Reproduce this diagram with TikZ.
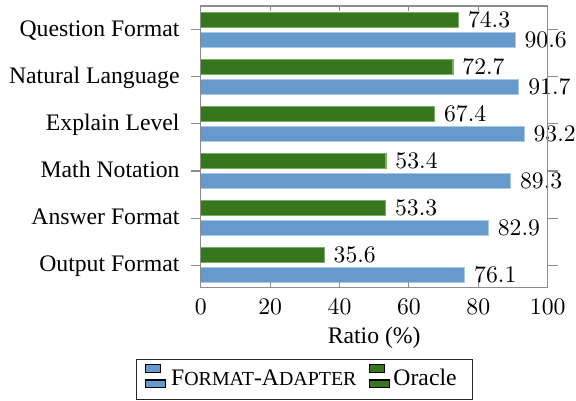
\documentclass[tikz,border=0pt]{standalone}
\usepackage{fontspec}
\setmainfont{Liberation Serif}
\definecolor{fablue}{RGB}{102,153,204}
\definecolor{fablueedge}{RGB}{170,200,232}
\definecolor{orgreen}{RGB}{56,118,29}
\definecolor{orgreenedge}{RGB}{120,175,100}
\definecolor{axisgray}{RGB}{140,140,140}
\newcommand{\fsc}[1]{{\fontsize{8.4}{9}\selectfont #1}}
\begin{document}
\begin{tikzpicture}[x=0.4219pt,y=-0.4219pt,
  bluebar/.style={fill=fablue,draw=fablueedge,line width=0.45pt},
  greenbar/.style={fill=orgreen,draw=orgreenedge,line width=0.45pt},
  vallabel/.style={anchor=west,inner sep=0pt},
  catlabel/.style={anchor=base east,inner sep=0pt},
  axisline/.style={draw=axisgray,line width=0.5pt},
  ticklabel/.style={inner sep=0pt},
  legicon/.style={draw=black,line width=0.5pt}]
\useasboundingbox (0,0) rectangle (576,401);
% bars and labels
\foreach \i/\name/\o/\f in {0/Question Format/74.3/90.6,1/Natural Language/72.7/91.7,2/Explain Level/67.4/93.2,3/Math Notation/53.4/89.3,4/Answer Format/53.3/82.9,5/Output Format/35.6/76.1}{
  \pgfmathsetmacro{\yc}{29.7+47.1*\i}
  \pgfmathsetmacro{\xo}{200.7+3.47*\o}
  \pgfmathsetmacro{\xf}{200.7+3.47*\f}
  \draw[greenbar] (200.7,\yc-17.5) rectangle (\xo,\yc-2.5);
  \draw[bluebar] (200.7,\yc+2.5) rectangle (\xf,\yc+17.5);
  \node[vallabel] (o\i) at (\xo+9,\yc-10) {$\o$};
  \node[vallabel] (f\i) at (\xf+9,\yc+10) {$\f$};
  \node[catlabel] (cat\i) at (180,\yc+6.5) {\name};
  \draw[axisline] (190.5,\yc) -- (200.7,\yc);
  \draw[axisline] (547.7,\yc) -- (557.5,\yc);
}
% axis box
\draw[axisline] (200.7,6) rectangle (547.7,287.7);
\foreach \v in {0,20,40,60,80,100}{
  \pgfmathsetmacro{\xv}{200.7+3.47*\v}
  \draw[axisline] (\xv,6) -- (\xv,11.5);
  \draw[axisline] (\xv,287.7) -- (\xv,282.2);
  \node[ticklabel] (xt\v) at (\xv,306.7) {$\v$};
}
\node[anchor=base,inner sep=0pt] (xlabel) at (374.2,343.3) {Ratio (\%)};
% legend
\draw[black!85,line width=0.5pt] (136.7,359.3) rectangle (472.3,399.3);
\draw[legicon,fill=fablue] (145.2,364.7) rectangle (160.2,372.3);
\draw[legicon,fill=fablue] (145.2,380) rectangle (165.2,387.3);
\node[anchor=base west,inner sep=0pt] (legfa) at (170.7,386) {F\fsc{ORMAT}-A\fsc{DAPTER}};
\draw[legicon,fill=orgreen] (369.7,364.7) rectangle (384.7,372.3);
\draw[legicon,fill=orgreen] (369.7,380) rectangle (389.7,387.3);
\node[anchor=base west,inner sep=0pt] (legor) at (393,386) {Oracle};
\end{tikzpicture}
\end{document}
